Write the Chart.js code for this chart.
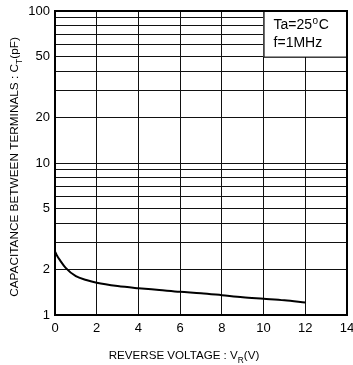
<!DOCTYPE html>
<html>
<head>
<meta charset="utf-8">
<script src="https://cdn.jsdelivr.net/npm/chart.js@4/dist/chart.umd.min.js"></script>
<style>
  html, body { margin: 0; padding: 0; background: #fff; }
  #wrap { width: 353px; height: 365px; position: relative; }
</style>
</head>
<body>
<div id="wrap"><canvas id="capChart"></canvas></div>
<script>
// reverse voltage (V) and terminal capacitance (pF)
const voltage = [0, 0.1, 0.25, 0.5, 1, 1.5, 2, 3, 4, 5, 6, 7, 8, 9, 10, 11, 12];
const capacitance = [2.62, 2.45, 2.28, 2.05, 1.80, 1.70, 1.63, 1.55, 1.50, 1.46, 1.42, 1.39, 1.35, 1.31, 1.28, 1.25, 1.21];

const xTicks = [0, 2, 4, 6, 8, 10, 12, 14];
const yGrid = [1, 2, 3, 4, 5, 6, 7, 8, 9, 10, 20, 30, 40, 50, 60, 70, 80, 90, 100];
const yLabels = [1, 2, 5, 10, 20, 50, 100];

const FONT = '"Liberation Sans", Arial, sans-serif';

// draw text with sub/superscript pieces, centred on (x, y)
function drawParts(ctx, parts, x, y, size, rotate) {
    ctx.save();
    ctx.translate(x, y);
    if (rotate) ctx.rotate(-Math.PI / 2);
    ctx.fillStyle = '#000';
    ctx.textBaseline = 'alphabetic';
    ctx.textAlign = 'left';
    const widths = parts.map(p => {
        ctx.font = (p.sub || p.sup ? size * 0.72 : size) + 'px ' + FONT;
        return ctx.measureText(p.t).width;
    });
    const total = widths.reduce((a, b) => a + b, 0);
    let cx = -total / 2;
    parts.forEach((p, i) => {
        ctx.font = (p.sub || p.sup ? size * 0.72 : size) + 'px ' + FONT;
        const dy = p.sub ? size * 0.3 : p.sup ? -size * 0.42 : 0;
        ctx.fillText(p.t, cx, size * 0.36 + dy);
        cx += widths[i];
    });
    ctx.restore();
}

const decorations = {
    id: 'decorations',
    afterDraw(chart) {
        const { ctx, chartArea: a, scales } = chart;
        const x = scales.x, y = scales.y;

        // condition box in the top right corner
        const bx = x.getPixelForValue(10), by = y.getPixelForValue(50);
        ctx.save();
        ctx.fillStyle = '#fff';
        ctx.fillRect(bx, a.top, a.right - bx, by - a.top);
        ctx.strokeStyle = '#000';
        ctx.lineWidth = 1;
        ctx.beginPath();
        ctx.moveTo(bx + 0.5, a.top);
        ctx.lineTo(bx + 0.5, by + 0.5);
        ctx.lineTo(a.right, by + 0.5);
        ctx.stroke();

        ctx.fillStyle = '#000';
        ctx.font = '14px ' + FONT;
        ctx.textAlign = 'left';
        ctx.textBaseline = 'alphabetic';
        let tx = bx + 10;
        ctx.fillText('Ta=25', tx, 29);
        tx += ctx.measureText('Ta=25').width + 0.5;
        ctx.font = '10px ' + FONT;
        ctx.fillText('o', tx, 24);
        tx += ctx.measureText('o').width + 0.5;
        ctx.font = '14px ' + FONT;
        ctx.fillText('C', tx, 29);
        ctx.fillText('f=1MHz', bx + 10, 47);

        // frame round the plot
        ctx.lineWidth = 2;
        ctx.strokeRect(a.left, a.top, a.right - a.left, a.bottom - a.top);
        ctx.restore();

        // axis titles
        drawParts(ctx, [
            { t: 'CAPACITANCE BETWEEN TERMINALS : C' },
            { t: 'T', sub: true },
            { t: '(pF)' }
        ], 14, 167, 11.8, true);
        drawParts(ctx, [
            { t: 'REVERSE VOLTAGE : V' },
            { t: 'R', sub: true },
            { t: '(V)' }
        ], 184, 355, 11.6, false);
    }
};

new Chart(document.getElementById('capChart'), {
    type: 'line',
    data: {
        datasets: [{
            data: voltage.map((v, i) => ({ x: v, y: capacitance[i] })),
            borderColor: '#000',
            borderWidth: 2,
            pointRadius: 0,
            fill: false,
            cubicInterpolationMode: 'monotone'
        }]
    },
    options: {
        responsive: true,
        maintainAspectRatio: false,
        animation: false,
        layout: { padding: { left: 0, right: 6, top: 11, bottom: 0 } },
        plugins: {
            legend: { display: false },
            tooltip: { enabled: false }
        },
        scales: {
            x: {
                type: 'linear',
                min: 0,
                max: 14,
                afterBuildTicks: (s) => { s.ticks = xTicks.map(v => ({ value: v })); },
                afterFit: (s) => { s.height = 50; s.paddingLeft = 0; s.paddingRight = 0; },
                grid: { color: '#111', lineWidth: 1, drawTicks: false },
                border: { display: false },
                ticks: {
                    color: '#000',
                    font: { family: FONT, size: 13 },
                    padding: 6,
                    maxRotation: 0,
                    autoSkip: false
                }
            },
            y: {
                type: 'logarithmic',
                min: 1,
                max: 100,
                afterBuildTicks: (s) => { s.ticks = yGrid.map(v => ({ value: v })); },
                afterFit: (s) => { s.width = 55; s.paddingTop = 0; s.paddingBottom = 0; },
                grid: { color: '#111', lineWidth: 1, drawTicks: false },
                border: { display: false },
                ticks: {
                    color: '#000',
                    font: { family: FONT, size: 13 },
                    padding: 5,
                    autoSkip: false,
                    callback: (v) => yLabels.includes(v) ? String(v) : ''
                }
            }
        }
    },
    plugins: [decorations]
});
</script>
</body>
</html>
